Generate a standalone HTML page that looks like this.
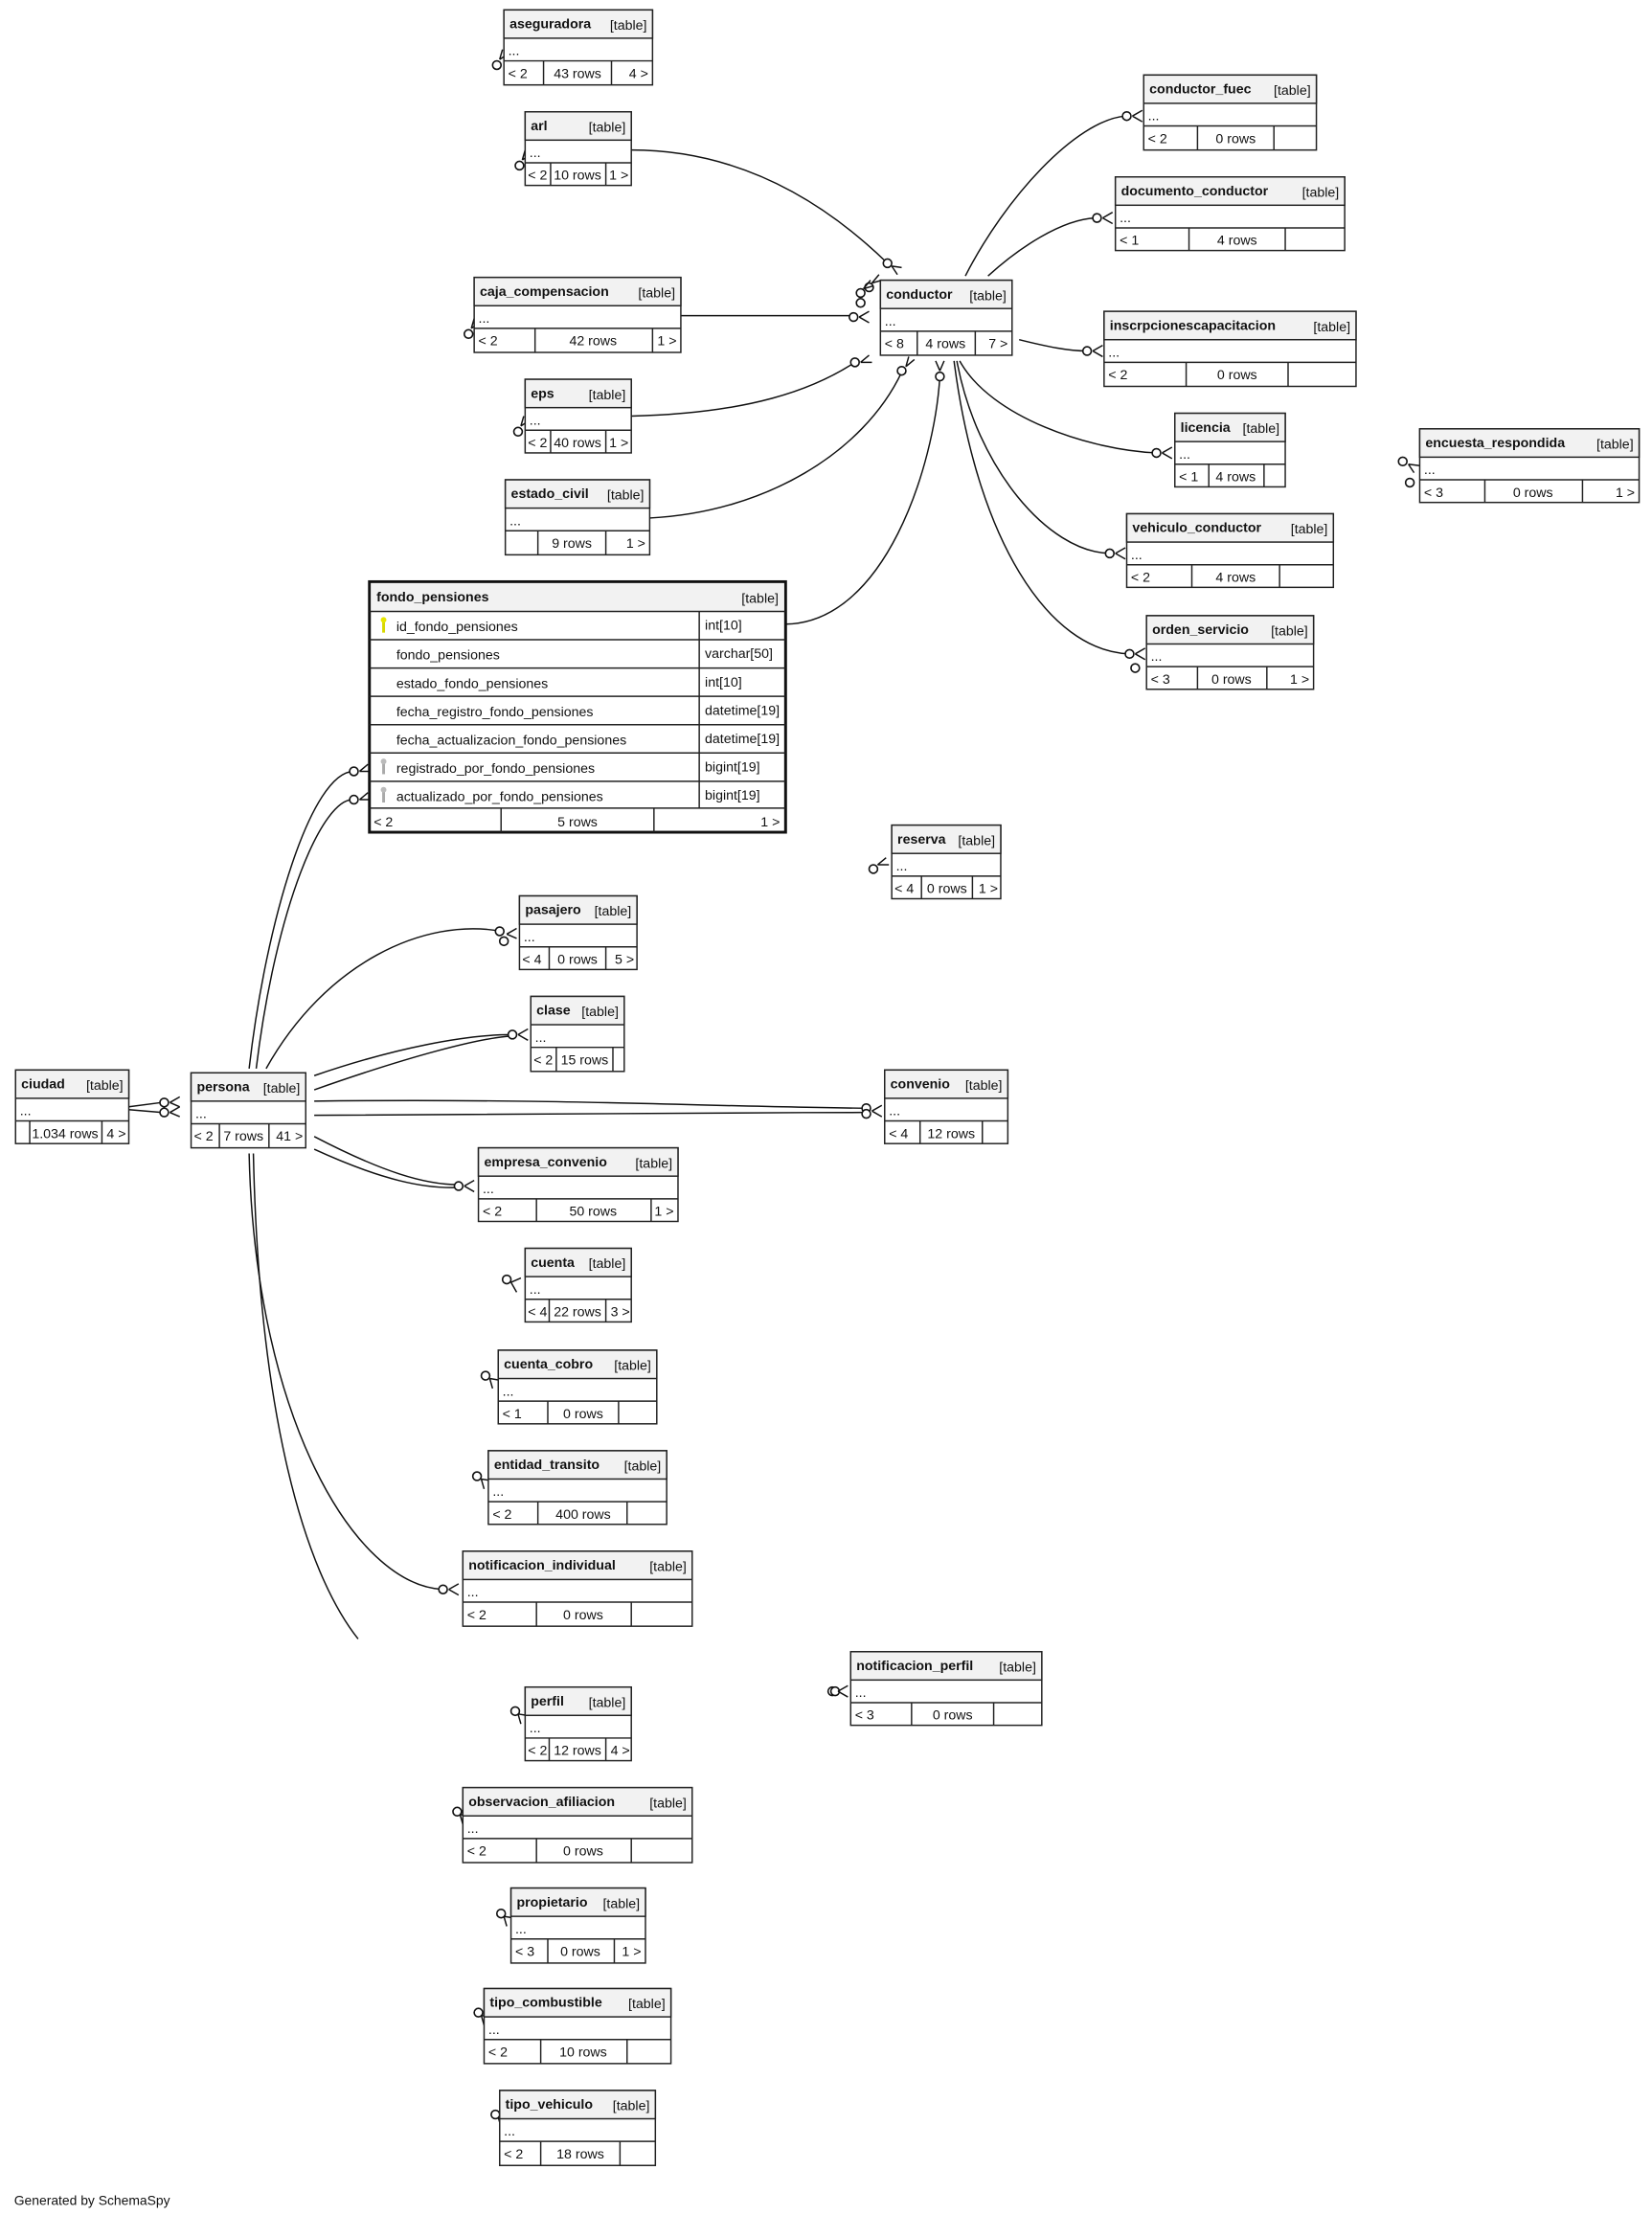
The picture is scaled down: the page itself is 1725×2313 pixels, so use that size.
<!DOCTYPE html>
<html><head><meta charset="utf-8"><style>
html,body{margin:0;padding:0;background:#fff;}
svg{display:block;}
text{font-family:"Liberation Sans",sans-serif;font-size:9.6px;fill:#111;}
.b{font-weight:bold;}
.r{text-anchor:end;}
.c{text-anchor:middle;}
.box{fill:#fff;stroke:#222;stroke-width:1;}
.hd{fill:#f2f2f2;stroke:#222;stroke-width:1;}
.ln{stroke:#222;stroke-width:1;fill:none;}
.e{fill:none;stroke:#111;stroke-width:1;}
.o{fill:#fff;stroke:#111;stroke-width:1.1;}
</style></head><body>
<svg width="1725" height="2313" viewBox="0 0 1167.1 1565" preserveAspectRatio="none" xmlns="http://www.w3.org/2000/svg">

<!-- connectors -->
<path class="e" d="M446,106 C530,106 590,150 627,186"/>
<path class="e" d="M481,223 L603,223"/>
<path class="e" d="M446,294 C530,292 575,275 604,256"/>
<path class="e" d="M459,366 C540,362 610,320 637,263"/>
<path class="e" d="M555,441 C625,440 660,330 664,266"/>
<path class="e" d="M682,195 C710,140 760,85 795,82"/>
<path class="e" d="M698,195 C720,175 750,155 774,154"/>
<path class="e" d="M720,240 C740,245 755,248 768,248"/>
<path class="e" d="M678,255 C700,295 770,318 817,320"/>
<path class="e" d="M676,255 C690,330 740,390 784,391"/>
<path class="e" d="M674,255 C690,380 740,460 798,462"/>
<path class="e" d="M176,755 C188,650 220,545 250,545"/>
<path class="e" d="M181,755 C195,640 228,563 250,565"/>
<path class="e" d="M188,755 C230,680 300,648 354,658"/>
<path class="e" d="M222,760 C280,740 330,731 362,731"/>
<path class="e" d="M222,770 C290,746 340,733 362,732"/>
<path class="e" d="M222,778 C400,776 500,782 612,783"/>
<path class="e" d="M222,788 C400,788 500,786 612,786"/>
<path class="e" d="M222,803 C270,828 300,837 324,837"/>
<path class="e" d="M222,812 C270,834 300,840 324,839"/>
<path class="e" d="M176,815 C180,1000 250,1120 313,1123"/>
<path class="e" d="M179,815 C183,1000 215,1110 253,1158"/>
<path class="e" d="M91,782 L114,779 M91,784 L114,786"/>

<!-- circles -->
<g class="o">
<circle cx="627" cy="186" r="3"/><circle cx="603" cy="224" r="3"/><circle cx="604" cy="256" r="3"/>
<circle cx="637" cy="262" r="3"/><circle cx="664" cy="266" r="3"/><circle cx="796" cy="82" r="3"/>
<circle cx="775" cy="154" r="3"/><circle cx="768" cy="248" r="3"/><circle cx="817" cy="320" r="3"/>
<circle cx="784" cy="391" r="3"/><circle cx="798" cy="462" r="3"/><circle cx="802" cy="472" r="3"/>
<circle cx="250" cy="545" r="3"/><circle cx="250" cy="565" r="3"/><circle cx="353" cy="658" r="3"/>
<circle cx="356" cy="665" r="3"/><circle cx="362" cy="731" r="3"/><circle cx="612" cy="783" r="3"/>
<circle cx="612" cy="787" r="3"/><circle cx="324" cy="838" r="3"/><circle cx="313" cy="1123" r="3"/>
<circle cx="116" cy="779" r="3"/><circle cx="116" cy="786" r="3"/>
<circle cx="351" cy="46" r="3"/><circle cx="367" cy="117" r="3"/><circle cx="331" cy="236" r="3"/>
<circle cx="366" cy="305" r="3"/><circle cx="991" cy="326" r="3"/><circle cx="996" cy="341" r="3"/>
<circle cx="617" cy="614" r="3"/><circle cx="358" cy="904" r="3"/><circle cx="343" cy="972" r="3"/>
<circle cx="337" cy="1043" r="3"/><circle cx="364" cy="1209" r="3"/><circle cx="323" cy="1280" r="3"/>
<circle cx="354" cy="1352" r="3"/><circle cx="338" cy="1422" r="3"/><circle cx="350" cy="1494" r="3"/>
<circle cx="588" cy="1195" r="3"/><circle cx="590" cy="1195" r="3"/>
<circle cx="608" cy="207" r="3"/><circle cx="608" cy="214" r="3"/><circle cx="614" cy="203" r="3"/>
</g>
<!-- crow feet -->
<g class="e" stroke-width="1.3">
<path d="M630,188 l4,6 m-4,-6 l7,1 M800,82 l7,-4 m-7,4 l7,4 M779,154 l7,-4 m-7,4 l7,4 M772,248 l7,-4 m-7,4 l7,4 M821,320 l7,-4 m-7,4 l7,4 M788,391 l7,-4 m-7,4 l7,4 M802,462 l7,-4 m-7,4 l7,4"/>
<path d="M607,224 l7,-4 m-7,4 l7,4 M608,256 l6,-5 m-6,5 l8,0 M640,259 l2,-7 m-2,7 l6,-5 M664,262 l-3,-7 m3,7 l3,-7"/>
<path d="M254,545 l6,-5 m-6,5 l7,0 M254,565 l6,-5 m-6,5 l7,0 M358,660 l7,-4 m-7,4 l7,3 M366,731 l7,-4 m-7,4 l7,4 M616,785 l7,-4 m-7,4 l7,4 M328,838 l7,-4 m-7,4 l7,4 M317,1123 l7,-4 m-7,4 l7,4"/>
<path d="M120,779 l7,-4 m-7,4 l7,3 M120,786 l7,-4 m-7,4 l7,3"/>
<path d="M353,42 l2,-7 m-2,7 l6,-4 M369,113 l2,-7 m-2,7 l6,-4 M333,232 l2,-7 m-2,7 l6,-4 M368,301 l2,-7 m-2,7 l6,-4 M995,328 l4,6 m-4,-6 l8,1 M620,611 l6,-5 m-6,5 l8,0 M361,906 l7,-3 m-7,3 l4,7 M346,974 l6,1 m-6,-1 l2,7 M340,1045 l6,1 m-6,-1 l2,7 M366,1211 l6,1 m-6,-1 l2,7 M325,1282 l6,1 m-6,-1 l2,7 M356,1354 l6,1 m-6,-1 l2,7 M340,1424 l6,1 m-6,-1 l2,7 M352,1496 l6,1 m-6,-1 l2,7 M592,1195 l7,-4 m-7,4 l7,4"/>
<path d="M610,204 l5,-6 m-5,6 l7,-2 M616,200 l5,-6 m-5,6 l7,-2"/>
</g>

<!-- tables -->
<g id="t">
<!-- aseguradora -->
<rect class="box" x="356" y="7" width="105" height="53"/><rect class="hd" x="356" y="7" width="105" height="20"/>
<line class="ln" x1="356" y1="43" x2="461" y2="43"/><line class="ln" x1="384" y1="43" x2="384" y2="60"/><line class="ln" x1="432" y1="43" x2="432" y2="60"/>
<text class="b" x="360" y="20">aseguradora</text><text class="r" x="457" y="21">[table]</text><text x="359" y="39">...</text>
<text x="359" y="55">&lt; 2</text><text class="c" x="408" y="55">43 rows</text><text class="r" x="458" y="55">4 &gt;</text>

<!-- arl -->
<rect class="box" x="371" y="79" width="75" height="52"/><rect class="hd" x="371" y="79" width="75" height="20"/>
<line class="ln" x1="371" y1="115" x2="446" y2="115"/><line class="ln" x1="389" y1="115" x2="389" y2="131"/><line class="ln" x1="428" y1="115" x2="428" y2="131"/>
<text class="b" x="375" y="92">arl</text><text class="r" x="442" y="93">[table]</text><text x="374" y="111">...</text>
<text x="373" y="127">&lt; 2</text><text class="c" x="408" y="127">10 rows</text><text class="r" x="444" y="127">1 &gt;</text>

<!-- caja_compensacion -->
<rect class="box" x="335" y="196" width="146" height="53"/><rect class="hd" x="335" y="196" width="146" height="20"/>
<line class="ln" x1="335" y1="232" x2="481" y2="232"/><line class="ln" x1="378" y1="232" x2="378" y2="249"/><line class="ln" x1="461" y1="232" x2="461" y2="249"/>
<text class="b" x="339" y="209">caja_compensacion</text><text class="r" x="477" y="210">[table]</text><text x="338" y="228">...</text>
<text x="338" y="244">&lt; 2</text><text class="c" x="419" y="244">42 rows</text><text class="r" x="478" y="244">1 &gt;</text>

<!-- eps -->
<rect class="box" x="371" y="268" width="75" height="52"/><rect class="hd" x="371" y="268" width="75" height="20"/>
<line class="ln" x1="371" y1="304" x2="446" y2="304"/><line class="ln" x1="389" y1="304" x2="389" y2="320"/><line class="ln" x1="428" y1="304" x2="428" y2="320"/>
<text class="b" x="375" y="281">eps</text><text class="r" x="442" y="282">[table]</text><text x="374" y="300">...</text>
<text x="373" y="316">&lt; 2</text><text class="c" x="408" y="316">40 rows</text><text class="r" x="444" y="316">1 &gt;</text>

<!-- estado_civil -->
<rect class="box" x="357" y="339" width="102" height="53"/><rect class="hd" x="357" y="339" width="102" height="20"/>
<line class="ln" x1="357" y1="375" x2="459" y2="375"/><line class="ln" x1="380" y1="375" x2="380" y2="392"/><line class="ln" x1="428" y1="375" x2="428" y2="392"/>
<text class="b" x="361" y="352">estado_civil</text><text class="r" x="455" y="353">[table]</text><text x="360" y="371">...</text>
<text class="c" x="404" y="387">9 rows</text><text class="r" x="456" y="387">1 &gt;</text>

<!-- fondo_pensiones -->
<rect x="261" y="411" width="294" height="177" fill="#fff" stroke="#111" stroke-width="2"/>
<rect x="262" y="412" width="292" height="20" fill="#f2f2f2"/>
<g class="ln">
<line x1="261" y1="432" x2="555" y2="432"/><line x1="261" y1="452" x2="555" y2="452"/><line x1="261" y1="472" x2="555" y2="472"/>
<line x1="261" y1="492" x2="555" y2="492"/><line x1="261" y1="512" x2="555" y2="512"/><line x1="261" y1="532" x2="555" y2="532"/>
<line x1="261" y1="552" x2="555" y2="552"/><line x1="261" y1="571" x2="555" y2="571"/>
<line x1="494" y1="432" x2="494" y2="571"/><line x1="354" y1="571" x2="354" y2="588"/><line x1="462" y1="571" x2="462" y2="588"/>
</g>
<text class="b" x="266" y="425">fondo_pensiones</text><text class="r" x="550" y="426">[table]</text>
<path d="M271,438 v9" stroke="#d8d800" stroke-width="2"/><circle cx="271" cy="438" r="2" fill="#e6e600"/>
<path d="M271,538 v9" stroke="#aaa" stroke-width="2"/><circle cx="271" cy="538" r="2" fill="#bbb"/>
<path d="M271,558 v9" stroke="#aaa" stroke-width="2"/><circle cx="271" cy="558" r="2" fill="#bbb"/>
<text x="280" y="446">id_fondo_pensiones</text><text x="498" y="445">int[10]</text>
<text x="280" y="466">fondo_pensiones</text><text x="498" y="465">varchar[50]</text>
<text x="280" y="486">estado_fondo_pensiones</text><text x="498" y="485">int[10]</text>
<text x="280" y="506">fecha_registro_fondo_pensiones</text><text x="498" y="505">datetime[19]</text>
<text x="280" y="526">fecha_actualizacion_fondo_pensiones</text><text x="498" y="525">datetime[19]</text>
<text x="280" y="546">registrado_por_fondo_pensiones</text><text x="498" y="545">bigint[19]</text>
<text x="280" y="566">actualizado_por_fondo_pensiones</text><text x="498" y="565">bigint[19]</text>
<text x="264" y="584">&lt; 2</text><text class="c" x="408" y="584">5 rows</text><text class="r" x="551" y="584">1 &gt;</text>

<!-- conductor -->
<rect class="box" x="622" y="198" width="93" height="53"/><rect class="hd" x="622" y="198" width="93" height="20"/>
<line class="ln" x1="622" y1="234" x2="715" y2="234"/><line class="ln" x1="648" y1="234" x2="648" y2="251"/><line class="ln" x1="689" y1="234" x2="689" y2="251"/>
<text class="b" x="626" y="211">conductor</text><text class="r" x="711" y="212">[table]</text><text x="625" y="230">...</text>
<text x="625" y="246">&lt; 8</text><text class="c" x="668" y="246">4 rows</text><text class="r" x="712" y="246">7 &gt;</text>

<!-- conductor_fuec -->
<rect class="box" x="808" y="53" width="122" height="53"/><rect class="hd" x="808" y="53" width="122" height="20"/>
<line class="ln" x1="808" y1="89" x2="930" y2="89"/><line class="ln" x1="846" y1="89" x2="846" y2="106"/><line class="ln" x1="900" y1="89" x2="900" y2="106"/>
<text class="b" x="812" y="66">conductor_fuec</text><text class="r" x="926" y="67">[table]</text><text x="811" y="85">...</text>
<text x="811" y="101">&lt; 2</text><text class="c" x="873" y="101">0 rows</text>

<!-- documento_conductor -->
<rect class="box" x="788" y="125" width="162" height="52"/><rect class="hd" x="788" y="125" width="162" height="20"/>
<line class="ln" x1="788" y1="161" x2="950" y2="161"/><line class="ln" x1="840" y1="161" x2="840" y2="177"/><line class="ln" x1="908" y1="161" x2="908" y2="177"/>
<text class="b" x="792" y="138">documento_conductor</text><text class="r" x="946" y="139">[table]</text><text x="791" y="157">...</text>
<text x="791" y="173">&lt; 1</text><text class="c" x="874" y="173">4 rows</text>

<!-- inscrpcionescapacitacion -->
<rect class="box" x="780" y="220" width="178" height="53"/><rect class="hd" x="780" y="220" width="178" height="20"/>
<line class="ln" x1="780" y1="256" x2="958" y2="256"/><line class="ln" x1="838" y1="256" x2="838" y2="273"/><line class="ln" x1="910" y1="256" x2="910" y2="273"/>
<text class="b" x="784" y="233">inscrpcionescapacitacion</text><text class="r" x="954" y="234">[table]</text><text x="783" y="252">...</text>
<text x="783" y="268">&lt; 2</text><text class="c" x="874" y="268">0 rows</text>

<!-- licencia -->
<rect class="box" x="830" y="292" width="78" height="52"/><rect class="hd" x="830" y="292" width="78" height="20"/>
<line class="ln" x1="830" y1="328" x2="908" y2="328"/><line class="ln" x1="854" y1="328" x2="854" y2="344"/><line class="ln" x1="893" y1="328" x2="893" y2="344"/>
<text class="b" x="834" y="305">licencia</text><text class="r" x="904" y="306">[table]</text><text x="833" y="324">...</text>
<text x="833" y="340">&lt; 1</text><text class="c" x="873" y="340">4 rows</text>

<!-- vehiculo_conductor -->
<rect class="box" x="796" y="363" width="146" height="52"/><rect class="hd" x="796" y="363" width="146" height="20"/>
<line class="ln" x1="796" y1="399" x2="942" y2="399"/><line class="ln" x1="842" y1="399" x2="842" y2="415"/><line class="ln" x1="904" y1="399" x2="904" y2="415"/>
<text class="b" x="800" y="376">vehiculo_conductor</text><text class="r" x="938" y="377">[table]</text><text x="799" y="395">...</text>
<text x="799" y="411">&lt; 2</text><text class="c" x="873" y="411">4 rows</text>

<!-- orden_servicio -->
<rect class="box" x="810" y="435" width="118" height="52"/><rect class="hd" x="810" y="435" width="118" height="20"/>
<line class="ln" x1="810" y1="471" x2="928" y2="471"/><line class="ln" x1="846" y1="471" x2="846" y2="487"/><line class="ln" x1="895" y1="471" x2="895" y2="487"/>
<text class="b" x="814" y="448">orden_servicio</text><text class="r" x="924" y="449">[table]</text><text x="813" y="467">...</text>
<text x="813" y="483">&lt; 3</text><text class="c" x="870" y="483">0 rows</text><text class="r" x="925" y="483">1 &gt;</text>

<!-- encuesta_respondida -->
<rect class="box" x="1003" y="303" width="155" height="52"/><rect class="hd" x="1003" y="303" width="155" height="20"/>
<line class="ln" x1="1003" y1="339" x2="1158" y2="339"/><line class="ln" x1="1049" y1="339" x2="1049" y2="355"/><line class="ln" x1="1118" y1="339" x2="1118" y2="355"/>
<text class="b" x="1007" y="316">encuesta_respondida</text><text class="r" x="1154" y="317">[table]</text><text x="1006" y="335">...</text>
<text x="1006" y="351">&lt; 3</text><text class="c" x="1083" y="351">0 rows</text><text class="r" x="1155" y="351">1 &gt;</text>

<!-- reserva -->
<rect class="box" x="630" y="583" width="77" height="52"/><rect class="hd" x="630" y="583" width="77" height="20"/>
<line class="ln" x1="630" y1="619" x2="707" y2="619"/><line class="ln" x1="651" y1="619" x2="651" y2="635"/><line class="ln" x1="687" y1="619" x2="687" y2="635"/>
<text class="b" x="634" y="596">reserva</text><text class="r" x="703" y="597">[table]</text><text x="633" y="615">...</text>
<text x="632" y="631">&lt; 4</text><text class="c" x="669" y="631">0 rows</text><text class="r" x="705" y="631">1 &gt;</text>

<!-- pasajero -->
<rect class="box" x="367" y="633" width="83" height="52"/><rect class="hd" x="367" y="633" width="83" height="20"/>
<line class="ln" x1="367" y1="669" x2="450" y2="669"/><line class="ln" x1="388" y1="669" x2="388" y2="685"/><line class="ln" x1="428" y1="669" x2="428" y2="685"/>
<text class="b" x="371" y="646">pasajero</text><text class="r" x="446" y="647">[table]</text><text x="370" y="665">...</text>
<text x="369" y="681">&lt; 4</text><text class="c" x="408" y="681">0 rows</text><text class="r" x="448" y="681">5 &gt;</text>

<!-- clase -->
<rect class="box" x="375" y="704" width="66" height="53"/><rect class="hd" x="375" y="704" width="66" height="20"/>
<line class="ln" x1="375" y1="740" x2="441" y2="740"/><line class="ln" x1="393" y1="740" x2="393" y2="757"/><line class="ln" x1="433" y1="740" x2="433" y2="757"/>
<text class="b" x="379" y="717">clase</text><text class="r" x="437" y="718">[table]</text><text x="378" y="736">...</text>
<text x="377" y="752">&lt; 2</text><text class="c" x="413" y="752">15 rows</text>

<!-- ciudad -->
<rect class="box" x="11" y="756" width="80" height="52"/><rect class="hd" x="11" y="756" width="80" height="20"/>
<line class="ln" x1="11" y1="792" x2="91" y2="792"/><line class="ln" x1="21" y1="792" x2="21" y2="808"/><line class="ln" x1="72" y1="792" x2="72" y2="808"/>
<text class="b" x="15" y="769">ciudad</text><text class="r" x="87" y="770">[table]</text><text x="14" y="788">...</text>
<text class="c" x="46" y="804">1.034 rows</text><text class="r" x="89" y="804">4 &gt;</text>

<!-- persona -->
<rect class="box" x="135" y="758" width="81" height="53"/><rect class="hd" x="135" y="758" width="81" height="20"/>
<line class="ln" x1="135" y1="794" x2="216" y2="794"/><line class="ln" x1="155" y1="794" x2="155" y2="811"/><line class="ln" x1="190" y1="794" x2="190" y2="811"/>
<text class="b" x="139" y="771">persona</text><text class="r" x="212" y="772">[table]</text><text x="138" y="790">...</text>
<text x="137" y="806">&lt; 2</text><text class="c" x="172" y="806">7 rows</text><text class="r" x="214" y="806">41 &gt;</text>

<!-- convenio -->
<rect class="box" x="625" y="756" width="87" height="52"/><rect class="hd" x="625" y="756" width="87" height="20"/>
<line class="ln" x1="625" y1="792" x2="712" y2="792"/><line class="ln" x1="650" y1="792" x2="650" y2="808"/><line class="ln" x1="694" y1="792" x2="694" y2="808"/>
<text class="b" x="629" y="769">convenio</text><text class="r" x="708" y="770">[table]</text><text x="628" y="788">...</text>
<text x="628" y="804">&lt; 4</text><text class="c" x="672" y="804">12 rows</text>

<!-- empresa_convenio -->
<rect class="box" x="338" y="811" width="141" height="52"/><rect class="hd" x="338" y="811" width="141" height="20"/>
<line class="ln" x1="338" y1="847" x2="479" y2="847"/><line class="ln" x1="379" y1="847" x2="379" y2="863"/><line class="ln" x1="460" y1="847" x2="460" y2="863"/>
<text class="b" x="342" y="824">empresa_convenio</text><text class="r" x="475" y="825">[table]</text><text x="341" y="843">...</text>
<text x="341" y="859">&lt; 2</text><text class="c" x="419" y="859">50 rows</text><text class="r" x="476" y="859">1 &gt;</text>

<!-- cuenta -->
<rect class="box" x="371" y="882" width="75" height="52"/><rect class="hd" x="371" y="882" width="75" height="20"/>
<line class="ln" x1="371" y1="918" x2="446" y2="918"/><line class="ln" x1="388" y1="918" x2="388" y2="934"/><line class="ln" x1="428" y1="918" x2="428" y2="934"/>
<text class="b" x="375" y="895">cuenta</text><text class="r" x="442" y="896">[table]</text><text x="374" y="914">...</text>
<text x="373" y="930">&lt; 4</text><text class="c" x="408" y="930">22 rows</text><text class="r" x="445" y="930">3 &gt;</text>

<!-- cuenta_cobro -->
<rect class="box" x="352" y="954" width="112" height="52"/><rect class="hd" x="352" y="954" width="112" height="20"/>
<line class="ln" x1="352" y1="990" x2="464" y2="990"/><line class="ln" x1="387" y1="990" x2="387" y2="1006"/><line class="ln" x1="437" y1="990" x2="437" y2="1006"/>
<text class="b" x="356" y="967">cuenta_cobro</text><text class="r" x="460" y="968">[table]</text><text x="355" y="986">...</text>
<text x="355" y="1002">&lt; 1</text><text class="c" x="412" y="1002">0 rows</text>

<!-- entidad_transito -->
<rect class="box" x="345" y="1025" width="126" height="52"/><rect class="hd" x="345" y="1025" width="126" height="20"/>
<line class="ln" x1="345" y1="1061" x2="471" y2="1061"/><line class="ln" x1="380" y1="1061" x2="380" y2="1077"/><line class="ln" x1="443" y1="1061" x2="443" y2="1077"/>
<text class="b" x="349" y="1038">entidad_transito</text><text class="r" x="467" y="1039">[table]</text><text x="348" y="1057">...</text>
<text x="348" y="1073">&lt; 2</text><text class="c" x="412" y="1073">400 rows</text>

<!-- notificacion_individual -->
<rect class="box" x="327" y="1096" width="162" height="53"/><rect class="hd" x="327" y="1096" width="162" height="20"/>
<line class="ln" x1="327" y1="1132" x2="489" y2="1132"/><line class="ln" x1="379" y1="1132" x2="379" y2="1149"/><line class="ln" x1="446" y1="1132" x2="446" y2="1149"/>
<text class="b" x="331" y="1109">notificacion_individual</text><text class="r" x="485" y="1110">[table]</text><text x="330" y="1128">...</text>
<text x="330" y="1144">&lt; 2</text><text class="c" x="412" y="1144">0 rows</text>

<!-- notificacion_perfil -->
<rect class="box" x="601" y="1167" width="135" height="52"/><rect class="hd" x="601" y="1167" width="135" height="20"/>
<line class="ln" x1="601" y1="1203" x2="736" y2="1203"/><line class="ln" x1="644" y1="1203" x2="644" y2="1219"/><line class="ln" x1="702" y1="1203" x2="702" y2="1219"/>
<text class="b" x="605" y="1180">notificacion_perfil</text><text class="r" x="732" y="1181">[table]</text><text x="604" y="1199">...</text>
<text x="604" y="1215">&lt; 3</text><text class="c" x="673" y="1215">0 rows</text>

<!-- perfil -->
<rect class="box" x="371" y="1192" width="75" height="52"/><rect class="hd" x="371" y="1192" width="75" height="20"/>
<line class="ln" x1="371" y1="1228" x2="446" y2="1228"/><line class="ln" x1="388" y1="1228" x2="388" y2="1244"/><line class="ln" x1="428" y1="1228" x2="428" y2="1244"/>
<text class="b" x="375" y="1205">perfil</text><text class="r" x="442" y="1206">[table]</text><text x="374" y="1224">...</text>
<text x="373" y="1240">&lt; 2</text><text class="c" x="408" y="1240">12 rows</text><text class="r" x="445" y="1240">4 &gt;</text>

<!-- observacion_afiliacion -->
<rect class="box" x="327" y="1263" width="162" height="53"/><rect class="hd" x="327" y="1263" width="162" height="20"/>
<line class="ln" x1="327" y1="1299" x2="489" y2="1299"/><line class="ln" x1="379" y1="1299" x2="379" y2="1316"/><line class="ln" x1="446" y1="1299" x2="446" y2="1316"/>
<text class="b" x="331" y="1276">observacion_afiliacion</text><text class="r" x="485" y="1277">[table]</text><text x="330" y="1295">...</text>
<text x="330" y="1311">&lt; 2</text><text class="c" x="412" y="1311">0 rows</text>

<!-- propietario -->
<rect class="box" x="361" y="1334" width="95" height="53"/><rect class="hd" x="361" y="1334" width="95" height="20"/>
<line class="ln" x1="361" y1="1370" x2="456" y2="1370"/><line class="ln" x1="387" y1="1370" x2="387" y2="1387"/><line class="ln" x1="434" y1="1370" x2="434" y2="1387"/>
<text class="b" x="365" y="1347">propietario</text><text class="r" x="452" y="1348">[table]</text><text x="364" y="1366">...</text>
<text x="364" y="1382">&lt; 3</text><text class="c" x="410" y="1382">0 rows</text><text class="r" x="453" y="1382">1 &gt;</text>

<!-- tipo_combustible -->
<rect class="box" x="342" y="1405" width="132" height="53"/><rect class="hd" x="342" y="1405" width="132" height="20"/>
<line class="ln" x1="342" y1="1441" x2="474" y2="1441"/><line class="ln" x1="382" y1="1441" x2="382" y2="1458"/><line class="ln" x1="443" y1="1441" x2="443" y2="1458"/>
<text class="b" x="346" y="1418">tipo_combustible</text><text class="r" x="470" y="1419">[table]</text><text x="345" y="1437">...</text>
<text x="345" y="1453">&lt; 2</text><text class="c" x="412" y="1453">10 rows</text>

<!-- tipo_vehiculo -->
<rect class="box" x="353" y="1477" width="110" height="53"/><rect class="hd" x="353" y="1477" width="110" height="20"/>
<line class="ln" x1="353" y1="1513" x2="463" y2="1513"/><line class="ln" x1="382" y1="1513" x2="382" y2="1530"/><line class="ln" x1="438" y1="1513" x2="438" y2="1530"/>
<text class="b" x="357" y="1490">tipo_vehiculo</text><text class="r" x="459" y="1491">[table]</text><text x="356" y="1509">...</text>
<text x="356" y="1525">&lt; 2</text><text class="c" x="410" y="1525">18 rows</text>
</g>

<text x="10" y="1558" style="font-size:9.4px">Generated by SchemaSpy</text>
</svg>
</body></html>
